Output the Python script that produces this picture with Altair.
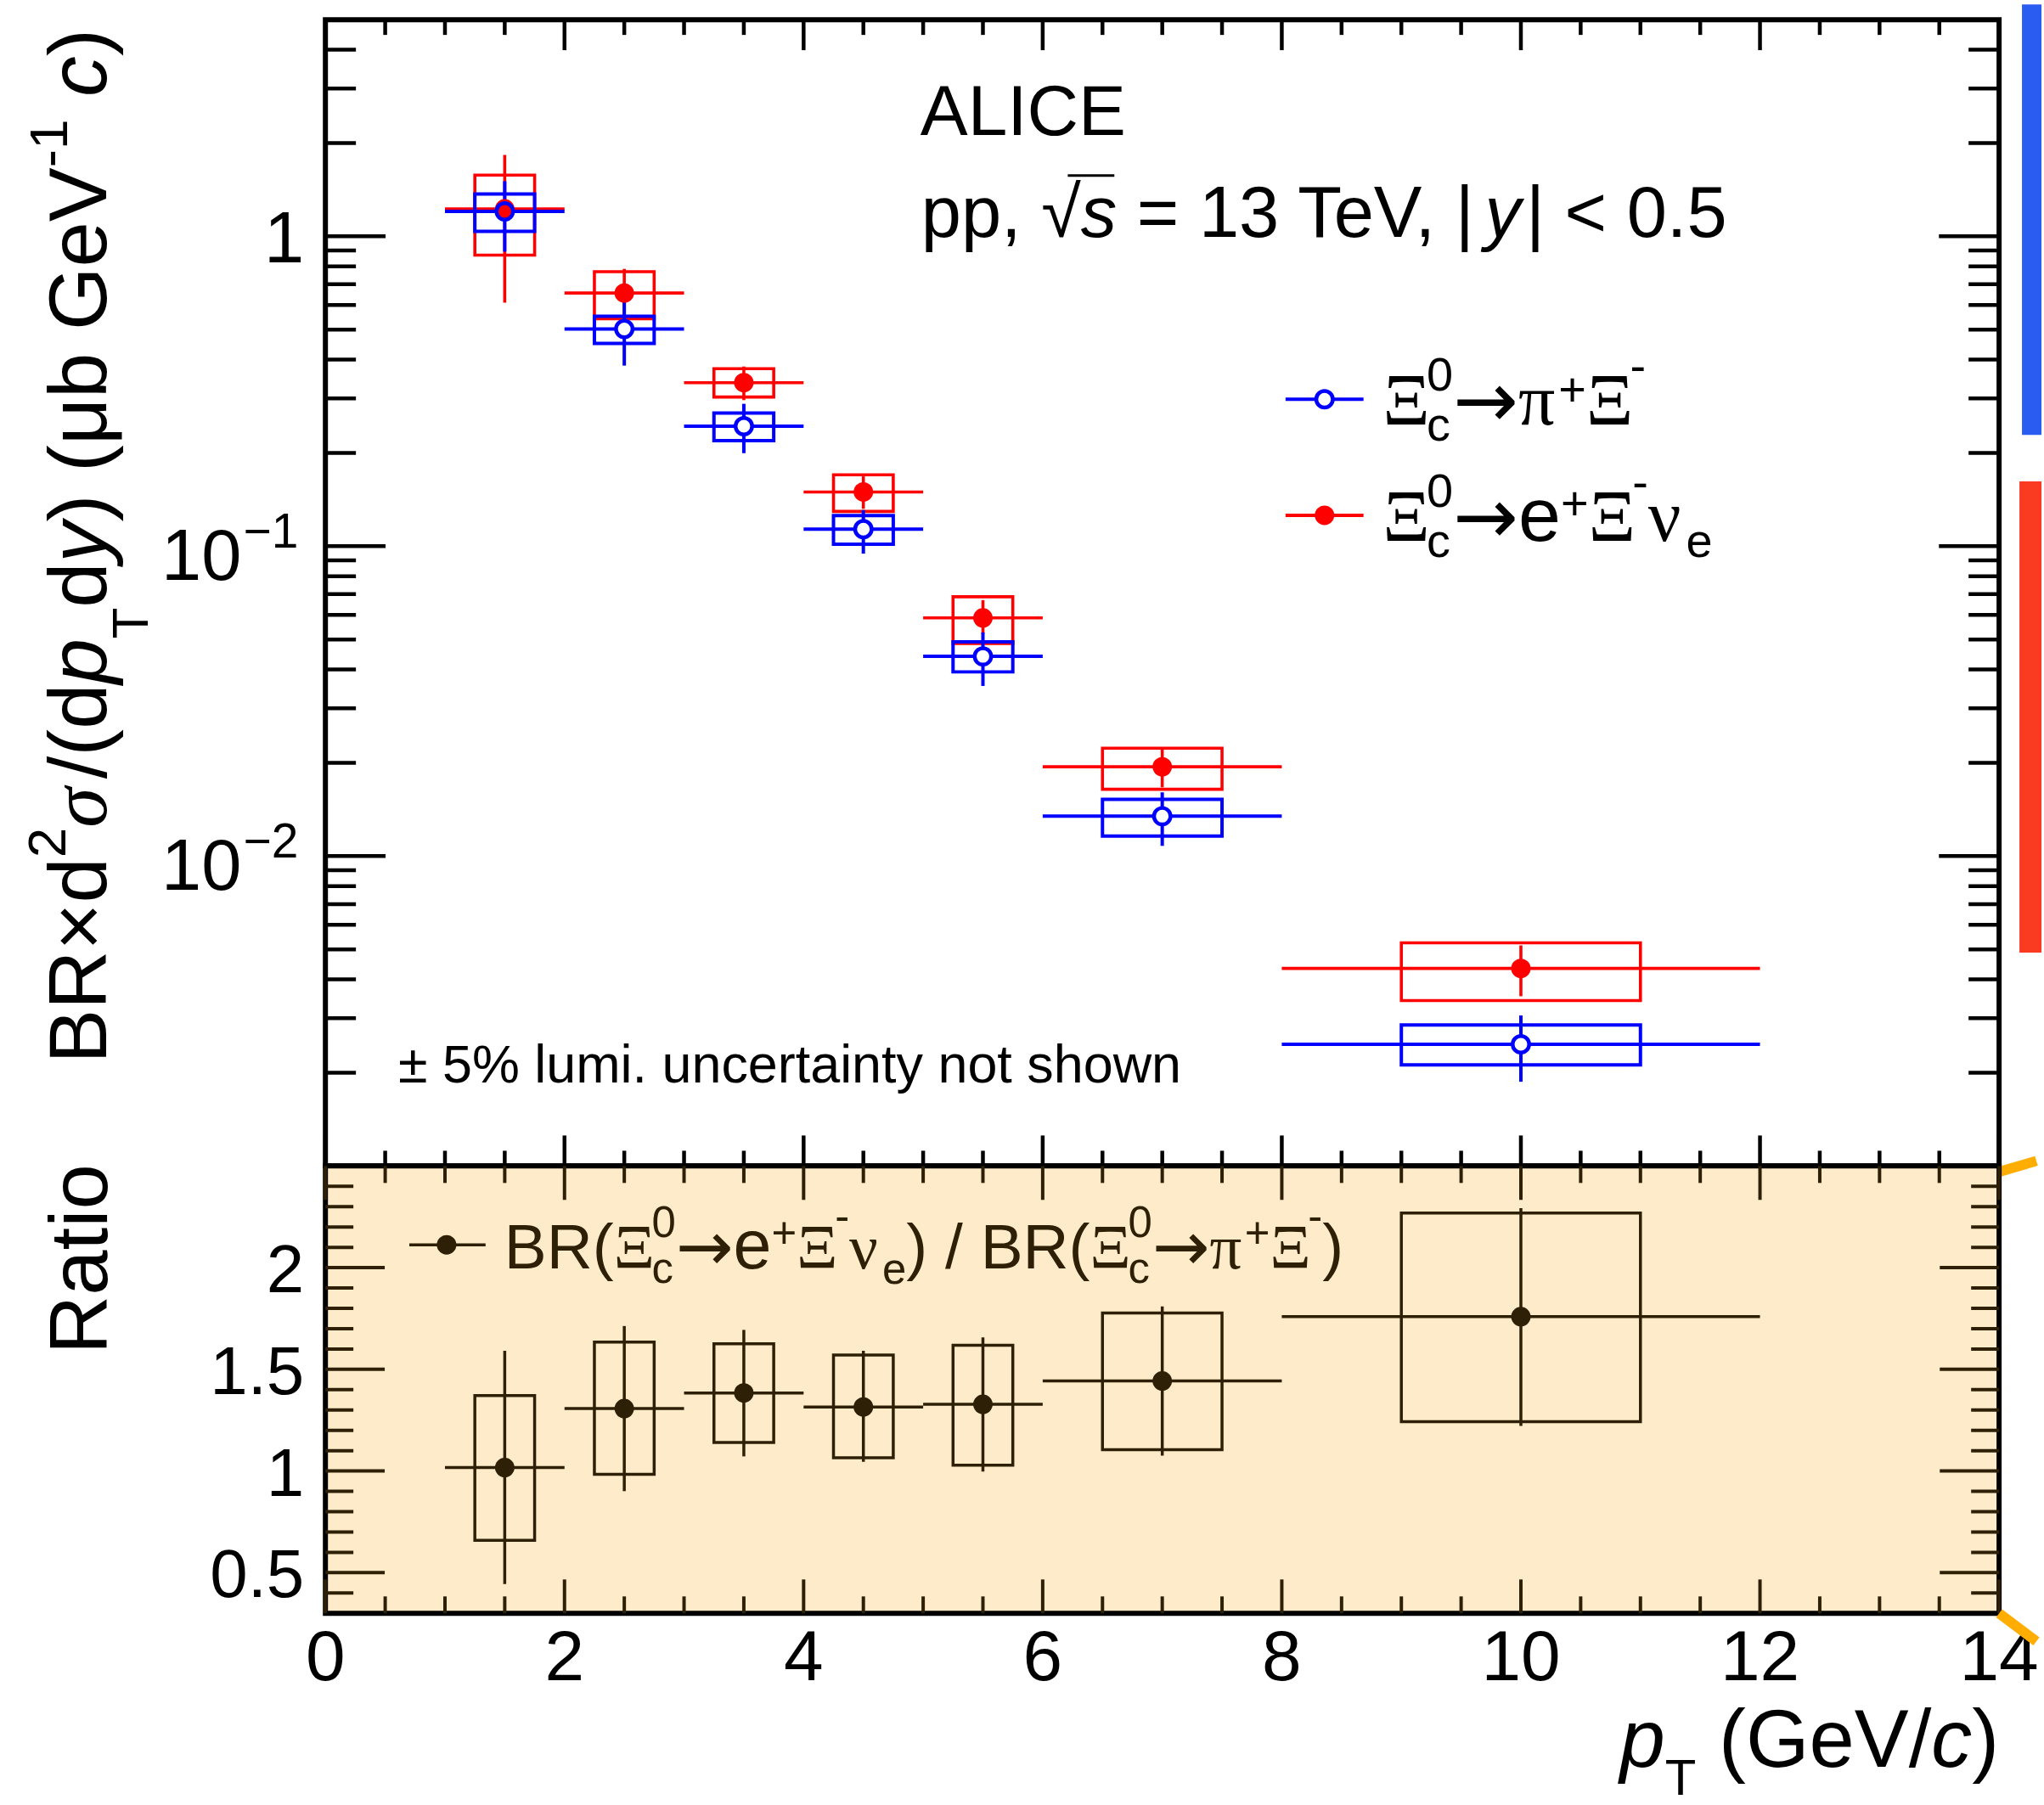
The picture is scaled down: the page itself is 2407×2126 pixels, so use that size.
import altair as alt
import pandas as pd

# ---------------- data ----------------
pt_center = [1.5, 2.5, 3.5, 4.5, 5.5, 7.0, 10.0]
pt_low = [1.0, 2.0, 3.0, 4.0, 5.0, 6.0, 8.0]
pt_high = [2.0, 3.0, 4.0, 5.0, 6.0, 8.0, 12.0]
syst_halfwidth = [0.25, 0.25, 0.25, 0.25, 0.25, 0.5, 1.0]

# Xi_c0 -> pi+ Xi-   (blue, open)
had_val = [1.203, 0.502, 0.244, 0.1135, 0.0441, 0.01345, 0.00247]
had_stat_lo = [0.892, 0.3825, 0.1996, 0.0946, 0.0354, 0.01079, 0.00187]
had_stat_hi = [1.506, 0.619, 0.288, 0.1308, 0.0527, 0.01606, 0.00306]
had_syst_lo = [1.037, 0.451, 0.219, 0.1014, 0.0393, 0.01161, 0.00212]
had_syst_hi = [1.37, 0.552, 0.269, 0.1255, 0.0491, 0.01525, 0.00285]

# Xi_c0 -> e+ Xi- nu_e   (red, full)
sl_val = [1.226, 0.656, 0.337, 0.1496, 0.0587, 0.01942, 0.00434]
sl_stat_lo = [0.611, 0.529, 0.296, 0.132, 0.0521, 0.01667, 0.00353]
sl_stat_hi = [1.83, 0.785, 0.380, 0.168, 0.067, 0.0221, 0.00515]
sl_syst_lo = [0.869, 0.542, 0.303, 0.1295, 0.0485, 0.01643, 0.00342]
sl_syst_hi = [1.576, 0.769, 0.374, 0.170, 0.0687, 0.0223, 0.00525]

# ratio
ratio_val = [1.017, 1.307, 1.384, 1.315, 1.328, 1.443, 1.759]
ratio_stat_lo = [0.444, 0.901, 1.072, 1.045, 0.997, 1.076, 1.222]
ratio_stat_hi = [1.591, 1.713, 1.694, 1.591, 1.657, 1.809, 2.293]
ratio_syst_lo = [0.659, 0.984, 1.140, 1.065, 1.029, 1.105, 1.243]
ratio_syst_hi = [1.371, 1.634, 1.626, 1.570, 1.618, 1.777, 2.269]

# ticks and labels
x_major = [0, 2, 4, 6, 8, 10, 12, 14]
x_minor = [0.5, 1, 1.5, 2.5, 3, 3.5, 4.5, 5, 5.5, 6.5, 7, 7.5, 8.5, 9, 9.5,
           10.5, 11, 11.5, 12.5, 13, 13.5]
x_labels = ["0", "2", "4", "6", "8", "10", "12", "14"]
log_major = [0.01, 0.1, 1.0]
log_minor = [0.002, 0.003, 0.004, 0.005, 0.006, 0.007, 0.008, 0.009,
             0.02, 0.03, 0.04, 0.05, 0.06, 0.07, 0.08, 0.09,
             0.2, 0.3, 0.4, 0.5, 0.6, 0.7, 0.8, 0.9, 2, 3, 4]
ratio_major = [0.5, 1.0, 1.5, 2.0]
ratio_major_labels = ["0.5", "1", "1.5", "2"]
ratio_minor = [0.4, 0.6, 0.7, 0.8, 0.9, 1.1, 1.2, 1.3, 1.4, 1.6, 1.7, 1.8, 1.9,
               2.1, 2.2, 2.3, 2.4]

# ---------------- style ----------------
SANS = "Liberation Sans"
SERIF = "Liberation Serif"
ARROWFONT = "DejaVu Sans"
FONTS = {"sans": SANS, "serif": SERIF, "arrow": ARROWFONT}
BLUE = "#0000ff"
RED = "#ff0000"
BROWN = "#2d2006"
PAPER = "#feebc9"
W, HU, HL = 1975, 1353, 528      # panel sizes in px
OX, OY = 381, 18                 # upper-left corner of the upper frame

xs = alt.Scale(domain=[0, 14], nice=False, zero=False)
ysu = alt.Scale(type="log", domain=[1e-3, 5], nice=False)
ysl = alt.Scale(domain=[0.3, 2.5], nice=False, zero=False)

one = pd.DataFrame({"a": [0]})


def series_df(val, slo, shi, ylo, yhi):
    return pd.DataFrame({
        "pt": pt_center, "lo": pt_low, "hi": pt_high,
        "bl": [p - h for p, h in zip(pt_center, syst_halfwidth)],
        "br": [p + h for p, h in zip(pt_center, syst_halfwidth)],
        "v": val, "slo": slo, "shi": shi, "ylo": ylo, "yhi": yhi})


def err_layers(df, ys, color, lw):
    b = alt.Chart(df)
    box = b.mark_rect(fillOpacity=0, stroke=color, strokeWidth=lw).encode(
        x=alt.X("bl:Q", scale=xs, axis=None), x2="br:Q",
        y=alt.Y("ylo:Q", scale=ys, axis=None), y2="yhi:Q")
    hbar = b.mark_rule(color=color, strokeWidth=lw).encode(
        x=alt.X("lo:Q", scale=xs, axis=None), x2="hi:Q",
        y=alt.Y("v:Q", scale=ys, axis=None))
    vbar = b.mark_rule(color=color, strokeWidth=lw).encode(
        x=alt.X("pt:Q", scale=xs, axis=None),
        y=alt.Y("slo:Q", scale=ys, axis=None), y2="shi:Q")
    return [box, hbar, vbar]


def marker(df, ys, **kw):
    return alt.Chart(df).mark_point(shape="circle", opacity=1, **kw).encode(
        x=alt.X("pt:Q", scale=xs, axis=None), y=alt.Y("v:Q", scale=ys, axis=None))


def tick_layers(ys, H, xlen, xlen_minor, color, width, ymaj, ymin, ylen=70, ylen_minor=35):
    out = []
    for vals, ln in ((x_major, xlen), (x_minor, xlen_minor)):
        d = alt.Chart(pd.DataFrame({"t": vals}))
        out.append(d.mark_rule(color=color, strokeWidth=width).encode(
            x=alt.X("t:Q", scale=xs, axis=None), y=alt.value(0), y2=alt.value(ln)))
        out.append(d.mark_rule(color=color, strokeWidth=width).encode(
            x=alt.X("t:Q", scale=xs, axis=None), y=alt.value(H - ln), y2=alt.value(H)))
    for vals, ln in ((ymaj, ylen), (ymin, ylen_minor)):
        d = alt.Chart(pd.DataFrame({"t": vals}))
        out.append(d.mark_rule(color=color, strokeWidth=width).encode(
            y=alt.Y("t:Q", scale=ys, axis=None), x=alt.value(0), x2=alt.value(ln)))
        out.append(d.mark_rule(color=color, strokeWidth=width).encode(
            y=alt.Y("t:Q", scale=ys, axis=None), x=alt.value(W - ln), x2=alt.value(W)))
    return out


# ------------- rich text (sub/superscripts) laid out as text marks -------------
SW = {' ': 278, '(': 333, ')': 333, '+': 584, ',': 278, '-': 333, '.': 278, '/': 278,
      '<': 584, '=': 584, '%': 889, '|': 260, '±': 584, '×': 584, '√': 549,
      '−': 584, 'μ': 576, 'A': 667, 'B': 667, 'C': 722, 'E': 667, 'G': 778, 'I': 278,
      'L': 556, 'R': 722, 'T': 611, 'V': 667, 'a': 556, 'b': 556, 'c': 500, 'd': 556,
      'e': 556, 'h': 556, 'i': 222, 'l': 222, 'm': 833, 'n': 556, 'o': 556, 'p': 556,
      'r': 333, 's': 500, 't': 278, 'u': 556, 'w': 722, 'y': 500}
GW = {'Ξ': 600, 'π': 550, 'ν': 520, 'σ': 600}
AW = {'→': 838}


def S(text, size, shift=0, fam="sans", style="normal", adv=True, kern=0):
    return (text, size, shift, fam, style, adv, kern)


def width(text, fam, size):
    tab = GW if fam == "serif" else (AW if fam == "arrow" else SW)
    return sum(tab.get(ch, 556) for ch in text) * size / 1000.0


def lay(segs, a0, b0, rot=False, anchor="start"):
    rows, cur, pend = [], 0.0, 0.0
    for text, size, shift, fam, style, adv, kern in segs:
        cur += kern
        lead = len(text) - len(text.lstrip(" "))
        shown = text.strip(" ")
        if shown:
            rows.append((shown, size, shift, fam, style, cur + lead * SW[" "] * size / 1000.0))
        w = width(text, fam, size)
        if adv:
            cur += max(pend, w)
            pend = 0.0
        else:
            pend = max(pend, w)
    total = cur
    d = -1.0 if rot else 1.0
    if anchor == "end":
        start = a0 - d * total
    elif anchor == "center":
        start = a0 - d * total / 2
    else:
        start = a0
    out = []
    for text, size, shift, fam, style, off in rows:
        if rot:
            out.append(dict(t=text, s=size, fam=fam, st=style, px=b0 + shift, py=start - off))
        else:
            out.append(dict(t=text, s=size, fam=fam, st=style, px=start + off, py=b0 + shift))
    return out


def text_layers(rows, color, angle=None):
    df = pd.DataFrame(rows)
    layers = []
    for (fam, st), g in df.groupby(["fam", "st"]):
        kw = dict(align="left", baseline="alphabetic", font=FONTS[fam],
                  fontStyle=st, color=color)
        if angle is not None:
            kw["angle"] = angle
        layers.append(alt.Chart(g.reset_index(drop=True)).mark_text(**kw).encode(
            x=alt.X("px:Q", scale=None, axis=None),
            y=alt.Y("py:Q", scale=None, axis=None),
            text="t:N",
            size=alt.Size("s:Q", scale=None, legend=None)))
    return layers


# ---------------- upper panel ----------------
had = series_df(had_val, had_stat_lo, had_stat_hi, had_syst_lo, had_syst_hi)
sl = series_df(sl_val, sl_stat_lo, sl_stat_hi, sl_syst_lo, sl_syst_hi)

upper_layers = []
# invisible anchor defining the top-left corner of the picture
upper_layers.append(alt.Chart(one).mark_rect(fill="white", fillOpacity=0).encode(
    x=alt.value(-OX), x2=alt.value(-OX + 1), y=alt.value(-OY), y2=alt.value(-OY + 1)))
upper_layers += err_layers(sl, ysu, RED, 3.6)
upper_layers += err_layers(had, ysu, BLUE, 4)
upper_layers.append(marker(had, ysu, filled=True, fill="white", strokeWidth=0, size=380))
upper_layers.append(marker(sl, ysu, filled=True, color=RED, size=529))
upper_layers.append(marker(had, ysu, filled=False, color=BLUE, strokeWidth=4.5, size=380))
upper_layers += tick_layers(ysu, HU, 36, 18, "black", 4.5, log_major, log_minor, 71, 36)

# y tick labels (1, 10^-1, 10^-2)
upper_layers.append(alt.Chart(pd.DataFrame({"v": [1.0], "lab": ["1"]})).mark_text(
    align="right", baseline="alphabetic", dy=31, fontSize=85, font=SANS, color="black").encode(
    y=alt.Y("v:Q", scale=ysu, axis=None), x=alt.value(-25), text="lab:N"))
dec = pd.DataFrame({"v": [0.1, 0.01], "base": ["10", "10"], "exp": ["−1", "−2"]})
upper_layers.append(alt.Chart(dec).mark_text(
    align="right", baseline="alphabetic", dy=40, fontSize=85, font=SANS, color="black").encode(
    y=alt.Y("v:Q", scale=ysu, axis=None), x=alt.value(-99), text="base:N"))
upper_layers.append(alt.Chart(dec).mark_text(
    align="right", baseline="alphabetic", dy=2, fontSize=57, font=SANS, color="black").encode(
    y=alt.Y("v:Q", scale=ysu, axis=None), x=alt.value(-32), text="exp:N"))

# y title (rotated)
ytitle = lay([S("BR×d", 96), S("2", 64, -48), S("σ", 96, 0, "serif", "italic"), S("/(d", 96),
              S("p", 96, 0, "sans", "italic"), S("T", 60, 49), S("d", 96),
              S("y", 96, 0, "sans", "italic"), S(") (μb GeV", 96), S("-1", 64, -46),
              S(" ", 96), S("c", 96, 0, "sans", "italic"), S(")", 96)],
             1232, -259, rot=True)
upper_layers += text_layers(ytitle, "black", angle=270)

# ALICE / system
upper_layers.append(alt.Chart(one).mark_text(
    align="left", baseline="alphabetic", fontSize=84, font=SANS, color="black").encode(
    x=alt.value(702), y=alt.value(136), text=alt.value("ALICE")))
sysline = lay([S("pp, ", 85), S("√", 85), S("s", 85, 0, "sans", "italic"),
               S(" = 13 TeV, |", 85), S("y", 85, 0, "sans", "italic", kern=-6),
               S("| < 0.5", 85, kern=6)],
              703, 256)
upper_layers += text_layers(sysline, "black")
upper_layers.append(alt.Chart(one).mark_rule(color="black", strokeWidth=3).encode(
    x=alt.value(876), x2=alt.value(931), y=alt.value(184)))
upper_layers.append(alt.Chart(one).mark_text(
    align="left", baseline="alphabetic", fontSize=63, font=SANS, color="black").encode(
    x=alt.value(86), y=alt.value(1254), text=alt.value("± 5% lumi. uncertainty not shown")))

# legend
upper_layers.append(alt.Chart(one).mark_rule(color=BLUE, strokeWidth=4).encode(
    x=alt.value(1133), x2=alt.value(1225), y=alt.value(448)))
upper_layers.append(alt.Chart(one).mark_point(shape="circle", filled=True, fill="white",
                                              strokeWidth=0, size=380, opacity=1).encode(
    x=alt.value(1179), y=alt.value(448)))
upper_layers.append(alt.Chart(one).mark_point(shape="circle", filled=False, color=BLUE,
                                              strokeWidth=4.5, size=380, opacity=1).encode(
    x=alt.value(1179), y=alt.value(448)))
upper_layers.append(alt.Chart(one).mark_rule(color=RED, strokeWidth=4).encode(
    x=alt.value(1133), x2=alt.value(1225), y=alt.value(585)))
upper_layers.append(alt.Chart(one).mark_point(shape="circle", filled=True, color=RED,
                                              size=529, opacity=1).encode(
    x=alt.value(1179), y=alt.value(585)))
leg1 = lay([S("Ξ", 86, 0, "serif"), S("0", 56, -40, adv=False), S("c", 56, 19),
            S("→", 92, 3, "arrow"),
            S("π", 86, 0, "serif"), S("+", 56, -22), S("Ξ", 86, 0, "serif"), S("-", 56, -50)],
           1248, 478)
leg2 = lay([S("Ξ", 86, 0, "serif"), S("0", 56, -40, adv=False), S("c", 56, 19),
            S("→", 92, 3, "arrow"),
            S("e", 90), S("+", 56, -25), S("Ξ", 86, 0, "serif"), S("-", 56, -50),
            S("ν", 86, 0, "serif"), S("e", 56, 19)],
           1248, 615)
upper_layers += text_layers(leg1 + leg2, "black")

# decorations at the right edge (cropped neighbouring graphics)
upper_layers.append(alt.Chart(one).mark_rect(color="#2a5cf2").encode(
    x=alt.value(2002), x2=alt.value(2025), y=alt.value(-18), y2=alt.value(490)))
upper_layers.append(alt.Chart(one).mark_rect(color="#fb3a22").encode(
    x=alt.value(1999), x2=alt.value(2025), y=alt.value(545), y2=alt.value(1101)))
upper_layers.append(alt.Chart(one).mark_rule(color="#ffad00", strokeWidth=12).encode(
    x=alt.value(1975), y=alt.value(1360), x2=alt.value(2019), y2=alt.value(1347)))

upper = alt.layer(*upper_layers).properties(
    width=W, height=HU,
    view=alt.ViewBackground(fill="white", stroke="black", strokeWidth=6))

# ---------------- lower panel ----------------
rat = series_df(ratio_val, ratio_stat_lo, ratio_stat_hi, ratio_syst_lo, ratio_syst_hi)
lower_layers = []
lower_layers += tick_layers(ysl, HL, 40, 20, BROWN, 4, ratio_major, ratio_minor, 70, 33)
lower_layers += err_layers(rat, ysl, BROWN, 3.5)
lower_layers.append(marker(rat, ysl, filled=True, color=BROWN, size=529))

lower_layers.append(alt.Chart(pd.DataFrame({"v": x_major, "lab": x_labels})).mark_text(
    align="center", baseline="alphabetic", fontSize=84, font=SANS, color="black").encode(
    x=alt.X("v:Q", scale=xs, axis=None), y=alt.value(607), text="lab:N"))
lower_layers.append(alt.Chart(pd.DataFrame({"v": ratio_major, "lab": ratio_major_labels})).mark_text(
    align="right", baseline="alphabetic", dy=29, fontSize=80, font=SANS, color="black").encode(
    y=alt.Y("v:Q", scale=ysl, axis=None), x=alt.value(-25), text="lab:N"))

# ratio legend
lower_layers.append(alt.Chart(one).mark_rule(color=BROWN, strokeWidth=3.5).encode(
    x=alt.value(99), x2=alt.value(189), y=alt.value(93)))
lower_layers.append(alt.Chart(one).mark_point(shape="circle", filled=True, color=BROWN,
                                              size=529, opacity=1).encode(
    x=alt.value(143), y=alt.value(93)))
rleg = lay([S("BR(", 75), S("Ξ", 75, 0, "serif"), S("0", 51, -37, adv=False), S("c", 51, 17),
            S("→", 81, 2, "arrow"), S("e", 81), S("+", 51, -24), S("Ξ", 75, 0, "serif"),
            S("-", 51, -44), S("ν", 75, 0, "serif"), S("e", 51, 18), S(")", 75), S(" / BR(", 75),
            S("Ξ", 75, 0, "serif"), S("0", 51, -37, adv=False), S("c", 51, 17),
            S("→", 81, 2, "arrow"),
            S("π", 75, 0, "serif"), S("+", 51, -24), S("Ξ", 75, 0, "serif"), S("-", 51, -44),
            S(")", 75)],
           211, 121)
lower_layers += text_layers(rleg, BROWN)

# axis titles
lower_layers += text_layers(lay([S("Ratio", 96)], 110, -258, rot=True, anchor="center"),
                            "black", angle=270)
xtitle = lay([S("p", 96, 0, "sans", "italic"), S("T", 60, 33), S(" (GeV/", 96),
              S("c", 96, 0, "sans", "italic"), S(")", 96)],
             W, 709, anchor="end")
lower_layers += text_layers(xtitle, "black")

lower_layers.append(alt.Chart(one).mark_rule(color="#ffad00", strokeWidth=12).encode(
    x=alt.value(1975), y=alt.value(528), x2=alt.value(2019), y2=alt.value(561)))

lower = alt.layer(*lower_layers).properties(
    width=W, height=HL,
    view=alt.ViewBackground(fill=PAPER, stroke="black", strokeWidth=6))

chart = alt.vconcat(upper, lower, spacing=0, bounds="flush").properties(
    padding=0).configure(background="white")

chart.save("out.html", embed_options={"renderer": "svg", "actions": False})
